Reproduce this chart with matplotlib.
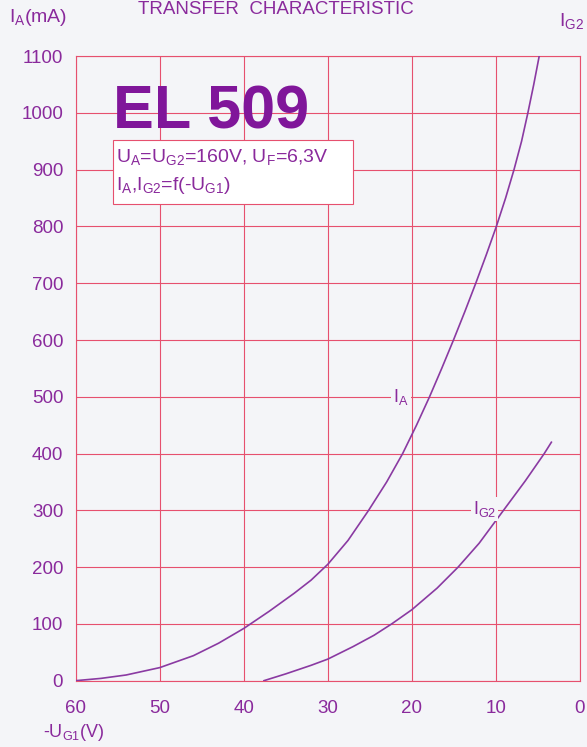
import matplotlib
matplotlib.use("Agg")
import matplotlib.pyplot as plt
from matplotlib.patches import Rectangle

plt.rcParams['font.family'] = ['Liberation Sans', 'DejaVu Sans']

# grid voltage -U_G1 (V) and currents (mA)
ug1_a = [60, 57, 54, 50, 46, 43, 40, 37, 34, 32, 30, 27.6, 25.15, 23.0, 21.1,
         19.45, 17.9, 16.45, 15.05, 13.7, 12.4, 11.15, 9.95, 8.85, 7.85, 6.95,
         6.2, 5.5, 4.85]
ia = [0, 4, 10, 23, 44, 66, 92, 122, 154, 177, 205, 247, 300, 350, 400,
      450, 500, 550, 600, 650, 700, 750, 800, 850, 900, 950,
      1000, 1050, 1100]

ug1_g2 = [37.6, 35, 32, 30, 27, 24.5, 22.4, 20, 17, 14.5, 12, 9.2, 6.5, 4.25, 3.4]
ig2 = [0, 12, 27, 38, 60, 80, 100, 125, 163, 200, 242, 298, 352, 400, 420]

x_ticks = [60, 50, 40, 30, 20, 10, 0]
y_ticks = list(range(0, 1101, 100))

grid_col = "#e6506e"
curve_col = "#8a3aa2"
text_col = "#8a2a9c"
bg = "#f4f5f8"

fig = plt.figure(figsize=(5.87, 7.47), dpi=100, facecolor=bg)
ax = fig.add_axes([0.129, 0.0888, 0.859, 0.836], facecolor=bg)

ax.plot(ug1_a, ia, color=curve_col, lw=1.2, zorder=3)
ax.plot(ug1_g2, ig2, color=curve_col, lw=1.2, zorder=3)

ax.set_xlim(60, 0)
ax.set_ylim(0, 1100)
ax.set_xticks(x_ticks)
ax.set_yticks(y_ticks)
ax.grid(True, color=grid_col, lw=0.8, zorder=1)
for s in ax.spines.values():
    s.set_color(grid_col)
    s.set_linewidth(0.8)
ax.tick_params(length=0, labelsize=13.5, labelcolor=text_col)
ax.tick_params(axis='x', pad=14)
ax.tick_params(axis='y', pad=9)

# curve labels
ax.text(21.3, 500, r"$\mathregular{I_A}$", color=text_col, fontsize=13,
        ha='center', va='center', zorder=4,
        bbox=dict(boxstyle='square,pad=0.1', fc=bg, ec='none'))
ax.text(11.3, 302, r"$\mathregular{I_{G2}}$", color=text_col, fontsize=13,
        ha='center', va='center', zorder=4,
        bbox=dict(boxstyle='square,pad=0.1', fc=bg, ec='none'))

# tube name and conditions
ax.text(0.074, 0.955, "EL 509", transform=ax.transAxes, fontsize=44,
        fontweight='bold', color="#80169a", ha='left', va='top', zorder=5)
ax.add_patch(Rectangle((0.073, 0.7626), 0.476, 0.103, transform=ax.transAxes,
                       fc='white', ec=grid_col, lw=0.8, zorder=4))
ax.text(0.080, 0.839,
        "$\\mathregular{U_A}$=$\\mathregular{U_{G2}}$=160V, $\\mathregular{U_F}$=6,3V",
        transform=ax.transAxes, fontsize=14, color=text_col, ha='left',
        va='center', zorder=5)
ax.text(0.080, 0.793,
        "$\\mathregular{I_A}$,$\\mathregular{I_{G2}}$=f(-$\\mathregular{U_{G1}}$)",
        transform=ax.transAxes, fontsize=14, color=text_col, ha='left',
        va='center', zorder=5)

# outer labels
fig.text(0.47, 0.998, "TRANSFER  CHARACTERISTIC", fontsize=13.5,
         color=text_col, ha='center', va='top')
fig.text(0.015, 0.976, r"$\mathregular{I_A}$(mA)", fontsize=14,
         color=text_col, ha='left', va='center')
fig.text(0.953, 0.972, r"$\mathregular{I_{G2}}$", fontsize=14,
         color=text_col, ha='left', va='center')
fig.text(0.074, 0.019, r"-$\mathregular{U_{G1}}$(V)", fontsize=13,
         color=text_col, ha='left', va='center')

fig.savefig("out.png", dpi=100, facecolor=bg)
